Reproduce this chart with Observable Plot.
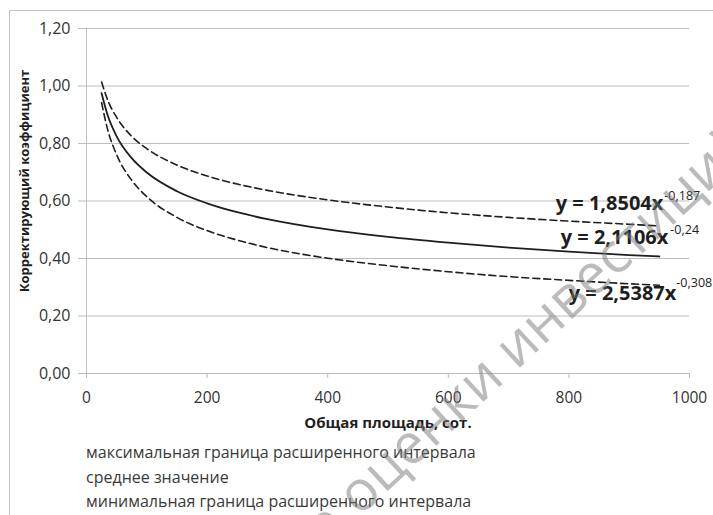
<!DOCTYPE html>
<html>
<head>
<meta charset="utf-8">
<script src="https://cdn.jsdelivr.net/npm/d3@7"></script>
<script src="https://cdn.jsdelivr.net/npm/@observablehq/plot@0.6"></script>
<style>
  html, body { margin: 0; padding: 0; background: #fff; width: 713px; height: 515px; overflow: hidden; }
  body { position: relative; font-family: "Open Sans", sans-serif; }
  #frame { position: absolute; left: 9px; top: 10px; width: 800px; height: 600px;
           border-left: 1px solid #c4c4c4; border-top: 1px solid #c4c4c4; }
  #chart { position: absolute; left: 0; top: 0; }
  #legend { position: absolute; left: 86px; top: 440px; font-size: 16px; line-height: 24.5px; color: #3a3a3a; }
  #wm { position: absolute; left: 290px; top: 522px; height: 60px; transform-origin: 0 50%; transform: rotate(-43deg);
        font-size: 56px; line-height: 60px; color: rgba(120,120,120,0.5); white-space: nowrap; }
</style>
</head>
<body>
<div id="frame"></div>
<div id="chart"></div>
<div id="legend"></div>
<div id="wm">то оценки инвестиций</div>
<script>
// Area values (сот.)
const xs = [25, 35, 50, 75, 100, 150, 200, 250, 300, 400, 500, 600, 700, 800, 900, 950];
// Upper bound of the extended interval
const maxVals  = [1.014, 0.952, 0.891, 0.825, 0.782, 0.725, 0.687, 0.659, 0.637, 0.604, 0.579, 0.559, 0.543, 0.530, 0.519, 0.513];
// Mean value
const meanVals = [0.975, 0.899, 0.825, 0.749, 0.699, 0.634, 0.592, 0.561, 0.537, 0.501, 0.475, 0.455, 0.438, 0.424, 0.412, 0.407];
// Lower bound of the extended interval
const minVals  = [0.942, 0.849, 0.761, 0.672, 0.615, 0.543, 0.497, 0.464, 0.438, 0.401, 0.375, 0.354, 0.337, 0.324, 0.312, 0.307];

const seriesNames = ["максимальная граница расширенного интервала", "среднее значение", "минимальная граница расширенного интервала"];
const eqMain = ["y = 1,8504x", "y = 2,1106x", "y = 2,5387x"];
const eqExp = ["-0,187", "-0,24", "-0,308"];
const yTicks = [0, 0.2, 0.4, 0.6, 0.8, 1.0, 1.2];
const xTicks = [0, 200, 400, 600, 800, 1000];
const xTitle = "Общая площадь, сот.";
const yTitle = "Корректирующий коэффициент";

const toRows = vals => xs.map((x, i) => ({x, y: vals[i]}));
const maxData = toRows(maxVals), meanData = toRows(meanVals), minData = toRows(minVals);
const last = d => [d[d.length - 1]];
const fmt = d => d.toFixed(2).replace(".", ",");

const grid = "#bdbdbd";
const ink = "#1e1e1e";

const eqMarks = (data, i, dxMain, dyMain, dxExp, dyExp) => [
  Plot.text(last(data), {x: "x", y: "y", text: () => eqMain[i], textAnchor: "end", dx: dxMain, dy: dyMain,
    fontSize: 20, fontWeight: "bold", fill: ink}),
  Plot.text(last(data), {x: "x", y: "y", text: () => eqExp[i], textAnchor: "start", dx: dxExp, dy: dyExp,
    fontSize: 12.5, fill: ink})
];

const chart = Plot.plot({
  width: 713,
  height: 440,
  marginLeft: 86,
  marginRight: 24,
  marginTop: 28,
  marginBottom: 67,
  style: {fontFamily: "'Open Sans', sans-serif", background: "transparent", overflow: "visible"},
  x: {domain: [0, 1000]},
  y: {domain: [0, 1.2]},
  marks: [
    Plot.ruleY(yTicks, {stroke: grid, strokeWidth: 1}),
    Plot.ruleX([0], {stroke: grid, strokeWidth: 1}),
    Plot.axisY(yTicks, {tickSize: 8, tickPadding: 8, tickFormat: fmt, fontSize: 16, stroke: grid, fill: "#333", label: null}),
    Plot.axisX(xTicks, {tickSize: 5, tickPadding: 13, tickFormat: d => String(d), fontSize: 15.5, stroke: grid, fill: "#333", label: null}),
    Plot.line(maxData, {x: "x", y: "y", stroke: ink, strokeWidth: 1.6, strokeDasharray: "7,4", curve: "monotone-x"}),
    Plot.line(meanData, {x: "x", y: "y", stroke: ink, strokeWidth: 1.8, curve: "monotone-x"}),
    Plot.line(minData, {x: "x", y: "y", stroke: ink, strokeWidth: 1.6, strokeDasharray: "7,4", curve: "monotone-x"}),
    ...eqMarks(maxData, 0, 4, -22, 5, -30),
    ...eqMarks(meanData, 1, 9, -19, 11, -26),
    ...eqMarks(minData, 2, 17, 8, 17, -2),
    Plot.text([yTitle], {frameAnchor: "left", textAnchor: "middle", rotate: -90, dx: -62, dy: -20, fontSize: 13, fontWeight: "bold", fill: ink}),
    Plot.text([xTitle], {frameAnchor: "bottom", dy: 54, fontSize: 15, fontWeight: "bold", fill: ink})
  ]
});
document.getElementById("chart").appendChild(chart);

const legend = document.getElementById("legend");
seriesNames.forEach(n => {
  const div = document.createElement("div");
  div.textContent = n;
  legend.appendChild(div);
});
</script>
</body>
</html>
